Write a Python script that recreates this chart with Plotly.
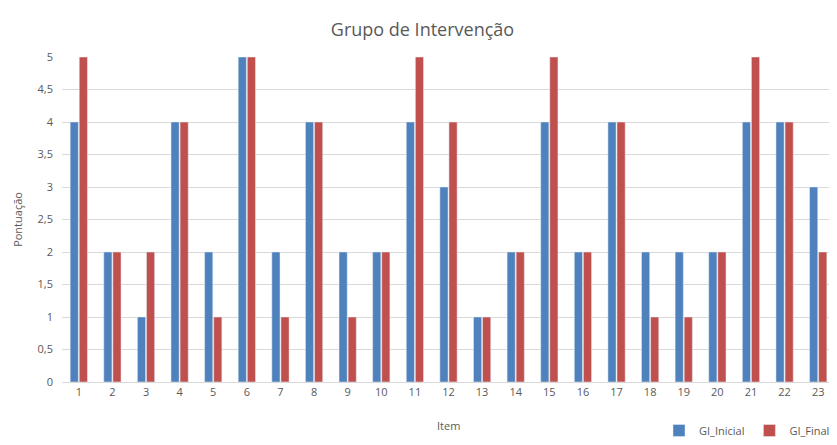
import plotly.graph_objects as go

items = [str(i) for i in range(1, 24)]
gi_inicial = [4, 2, 1, 4, 2, 5, 2, 4, 2, 2, 4, 3, 1, 2, 4, 2, 4, 2, 2, 2, 4, 4, 3]
gi_final = [5, 2, 2, 4, 1, 5, 1, 4, 1, 2, 5, 4, 1, 2, 5, 2, 4, 1, 1, 2, 5, 4, 2]

font_fam = "Open Sans, Noto Sans, DejaVu Sans, sans-serif"

fig = go.Figure()
fig.add_trace(go.Bar(x=items, y=gi_inicial, name="GI_Inicial", marker_color="#4F81BD"))
fig.add_trace(go.Bar(x=items, y=gi_final, name="GI_Final", marker_color="#C0504D"))

fig.update_layout(
    width=829, height=437,
    margin=dict(l=54, r=2, t=49, b=63),
    paper_bgcolor="white", plot_bgcolor="white",
    separators=",.",
    barmode="group", bargap=0.46, bargroupgap=0.1,
    title=dict(text="Grupo de Intervenção", x=0.5, xanchor="center", y=0.95, yanchor="middle",
               font=dict(family=font_fam, size=18, color="#595959")),
    font=dict(family=font_fam, size=11, color="#595959"),
    legend=dict(orientation="h", x=1.0, xanchor="right", y=-0.055, yanchor="bottom",
                yref="container", font=dict(size=11, color="#595959"),
                itemwidth=30, traceorder="normal", tracegroupgap=0),
    xaxis=dict(showgrid=False, showline=True, linecolor="#D9D9D9", ticks="",
               tickfont=dict(size=11), automargin=False),
    yaxis=dict(title=dict(text="Pontuação", standoff=12, font=dict(size=11)),
               range=[0, 5], dtick=0.5, showgrid=True, gridcolor="#D9D9D9",
               zeroline=False, showline=False, tickfont=dict(size=11), ticklabelstandoff=8,
               automargin=False),
    annotations=[dict(text="Item", xref="paper", yref="paper", x=0.5, y=0,
                      xanchor="center", yanchor="middle", yshift=-43, showarrow=False,
                      font=dict(size=11, color="#595959"))],
)

fig.write_html("out.html")
